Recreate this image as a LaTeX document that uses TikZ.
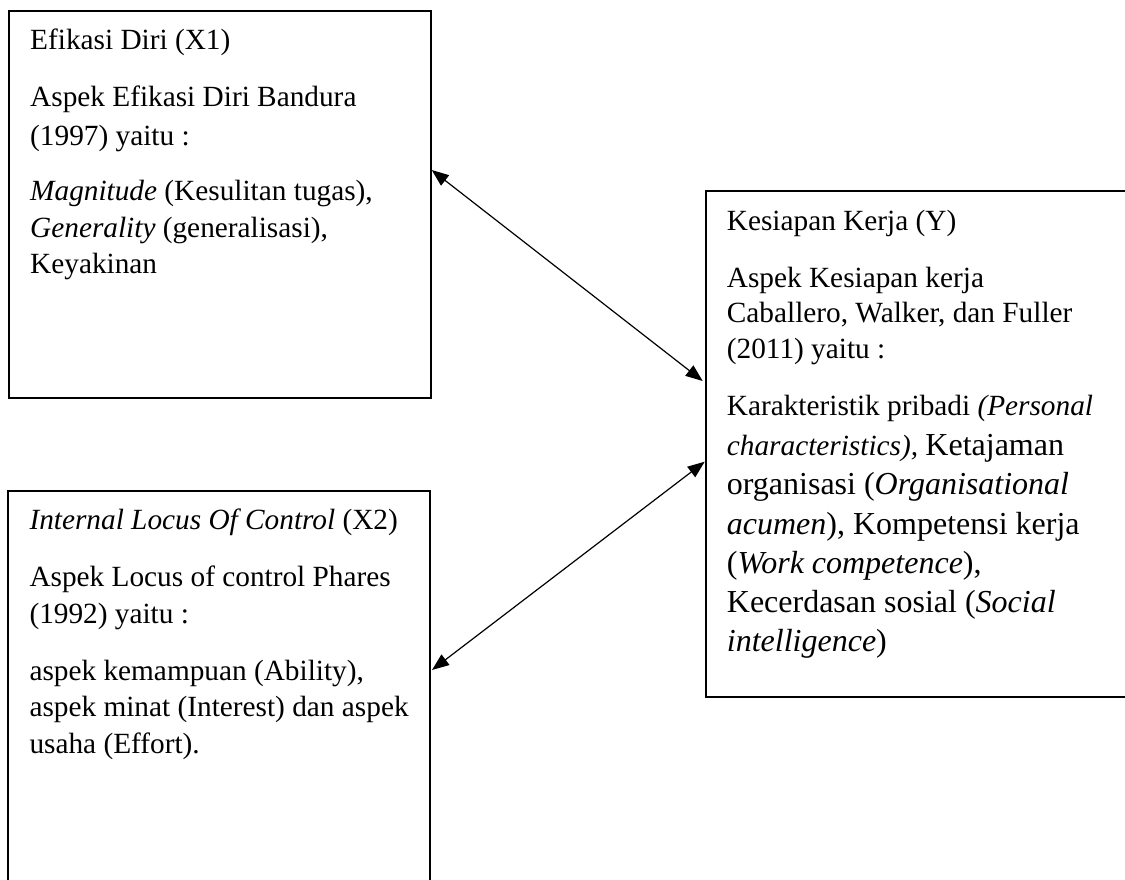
\documentclass[tikz,border=0pt]{standalone}
\usepackage{fontspec}
\setmainfont{Liberation Serif}
\usetikzlibrary{arrows.meta}
\newcommand{\bigpart}{\fontsize{32}{38}\selectfont}
\begin{document}
\begin{tikzpicture}[x=1pt,y=-1pt,
  box/.style={draw, line width=2pt, inner sep=0pt},
  txt/.style={anchor=base west, inner sep=0pt, font=\fontsize{29.3}{35}\selectfont},
  link/.style={{Triangle[length=17pt,width=13pt]}-{Triangle[length=17pt,width=13pt]}, line width=1.2pt}]
\clip (0,0) rectangle (1125,879);
\fill[white] (0,0) rectangle (1125,879);

% boxes
\node[box, minimum width=421.7pt, minimum height=387.3pt] (x1) at (219.85,204.35) {};
\node[box, minimum width=421.7pt, minimum height=429.3pt] (x2) at (219.15,705.35) {};
\node[box, minimum width=439.3pt, minimum height=506pt] (y) at (925.35,443.7) {};

% box 1 text
\node[txt] (a1) at (30,49.3) {Efikasi Diri (X1)};
\node[txt] (a2) at (30,106.7) {Aspek Efikasi Diri Bandura};
\node[txt] (a3) at (30,145) {(1997) yaitu :};
\node[txt] (a4) at (30,200) {\textit{Magnitude} (Kesulitan tugas),};
\node[txt] (a5) at (30,237.3) {\textit{Generality} (generalisasi),};
\node[txt] (a6) at (30,273.3) {Keyakinan};

% box 2 text
\node[txt] (b1) at (29.3,529.3) {\textit{Internal Locus Of Control} (X2)};
\node[txt] (b2) at (29.3,586.7) {Aspek Locus of control Phares};
\node[txt] (b3) at (29.3,623.3) {(1992) yaitu :};
\node[txt] (b4) at (29.3,680) {aspek kemampuan (Ability),};
\node[txt] (b5) at (29.3,716.7) {aspek minat (Interest) dan aspek};
\node[txt] (b6) at (29.3,753.3) {usaha (Effort).};

% box 3 text
\node[txt] (c1) at (726.7,230) {Kesiapan Kerja (Y)};
\node[txt] (c2) at (726.7,287) {Aspek Kesiapan kerja};
\node[txt] (c3) at (726.7,322.7) {Caballero, Walker, dan Fuller};
\node[txt] (c4) at (726.7,358.3) {(2011) yaitu :};
\node[txt] (c5) at (726.7,415) {Karakteristik pribadi \textit{(Personal}};
\node[txt] (c6) at (726.7,455) {\textit{characteristics),} {\bigpart Ketajaman}};
\node[txt] (c7) at (726.7,494.3) {\bigpart organisasi (\textit{Organisational}};
\node[txt] (c8) at (726.7,534) {\bigpart \textit{acumen}), Kompetensi kerja};
\node[txt] (c9) at (726.7,573.3) {\bigpart (\textit{Work competence}),};
\node[txt] (c10) at (726.7,612.7) {\bigpart Kecerdasan sosial (\textit{Social}};
\node[txt] (c11) at (726.7,651.7) {\bigpart \textit{intelligence})};

% connectors
\draw[link] ([yshift=34.35pt]x1.east) -- ([xshift=-2pt,yshift=62.7pt]y.west);
\draw[link] ([xshift=1pt,yshift=35.35pt]x2.east) -- ([yshift=-18pt]y.west);
\end{tikzpicture}
\end{document}
